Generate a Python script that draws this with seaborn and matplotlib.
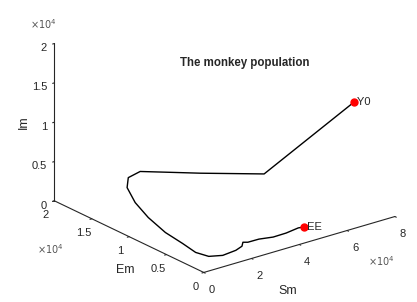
import matplotlib
matplotlib.use("Agg")
import matplotlib.pyplot as plt
import numpy as np
import seaborn as sns
from matplotlib.ticker import FuncFormatter

# trajectory of the monkey population (Sm, Em, Im)
sm = [6.29e4, 3.07e4, 1.67e4, 1.15e4, 0.621e4, 0.277e4, 0.218e4, 0.213e4, 0.255e4, 0.315e4,
      0.509e4, 0.576e4, 0.83e4, 1.29e4, 1.95e4, 2.33e4, 2.57e4, 2.72e4, 3.19e4, 3.68e4,
      4.25e4, 4.86e4, 5.08e4]
em = [0.005e4, 0.174e4, 0.578e4, 0.814e4, 1.051e4, 1.10e4, 1.097e4, 0.987e4, 0.825e4, 0.615e4,
      0.447e4, 0.293e4, 0.199e4, 0.159e4, 0.194e4, 0.234e4, 0.298e4, 0.28e4, 0.282e4, 0.248e4,
      0.256e4, 0.289e4, 0.28e4]
im = [1.6e4, 0.9e4, 0.85e4, 0.8e4, 0.75e4, 0.68e4, 0.56e4, 0.42e4, 0.3e4, 0.2e4,
      0.12e4, 0.07e4, 0.04e4, 0.03e4, 0.02e4, 0.02e4, 0.02e4, 0.015e4, 0.012e4, 0.01e4,
      0.007e4, 0.003e4, 0.0]

sm_ticks = [0, 2e4, 4e4, 6e4, 8e4]
em_ticks = [0, 0.5e4, 1e4, 1.5e4, 2e4]
im_ticks = [0, 0.5e4, 1e4, 1.5e4, 2e4]

sns.set_style("white")
plt.rcParams["font.family"] = ["Liberation Sans", "DejaVu Sans"]

fig = plt.figure(figsize=(4.17, 3.02), dpi=100)
ax = fig.add_axes([0.029, 0.056, 1.0, 1.0], projection="3d", proj_type="ortho")
ax.view_init(elev=22, azim=-128)
ax.set_box_aspect((1, 1, 0.7), zoom=1.23)

ax.plot(sm, em, im, color="black", linewidth=1.0)
ax.plot([sm[0]], [em[0]], [im[0]], "o", color="red", markersize=5)
ax.plot([sm[-1]], [em[-1]], [im[-1]], "o", color="red", markersize=5)
ax.text(sm[0], em[0], im[0], " Y0", fontsize=8, va="center", ha="left")
ax.text(sm[-1], em[-1], im[-1], " EE", fontsize=8, va="center", ha="left")

ax.set_xlim(0, 8e4)
ax.set_ylim(0, 2e4)
ax.set_zlim(0, 2e4)
ax.set_xticks(sm_ticks)
ax.set_yticks(em_ticks)
ax.set_zticks(im_ticks)
fmt = FuncFormatter(lambda v, p: f"{v / 1e4:g}")
for axis in (ax.xaxis, ax.yaxis, ax.zaxis):
    axis.set_major_formatter(fmt)
    axis.set_pane_color((1, 1, 1, 0))
    axis.line.set_color("#262626")
    axis.line.set_linewidth(0.8)
    axis._axinfo["tick"]["inward_factor"] = 0.12
    axis._axinfo["tick"]["outward_factor"] = 0.0
    axis._axinfo["tick"]["color"] = "#262626"
ax.tick_params(labelsize=8, colors="#262626")
ax.tick_params(axis="x", pad=-2)
ax.tick_params(axis="y", pad=-3)
ax.tick_params(axis="z", pad=-5.5)
for lab in ax.get_zticklabels():
    lab.set_horizontalalignment("right")
ax.grid(False)

fig.text(0.69, 0.035, "Sm", fontsize=9, ha="center", va="center", color="#262626")
fig.text(0.30, 0.105, "Em", fontsize=9, ha="center", va="center", color="#262626")
fig.text(0.058, 0.595, "Im", fontsize=9, ha="center", va="center", rotation=90, color="#262626")

# offset texts for the x10^4 scaling of each axis
fig.text(0.072, 0.92, r"$\times10^4$", fontsize=7, color="#555555", va="center")
fig.text(0.088, 0.175, r"$\times10^4$", fontsize=7, color="#555555", va="center")
fig.text(0.883, 0.136, r"$\times10^4$", fontsize=7, color="#555555", va="center")
fig.text(0.588, 0.78, "The monkey population", fontsize=8.3, fontweight="bold", ha="center")

fig.savefig("out.png", dpi=100)
